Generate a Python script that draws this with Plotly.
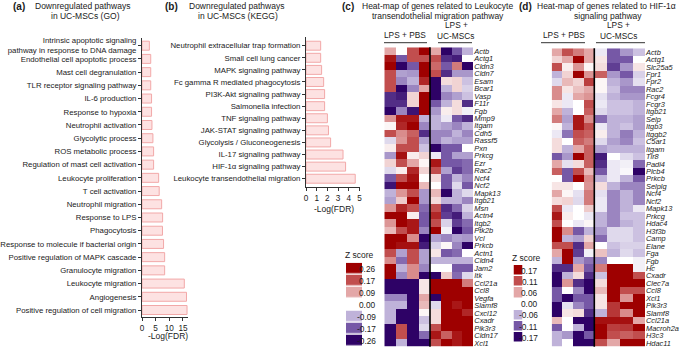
import plotly.graph_objects as go

W, H = 685, 349
FONT = "Liberation Sans, Arial, Helvetica, sans-serif"
INK = "#1a1a1a"

# ---------------- data ----------------
go_terms = [
    "Intrinsic apoptotic signaling<br>pathway in response to DNA damage",
    "Endothelial cell apoptotic process",
    "Mast cell degranulation",
    "TLR receptor signaling pathway",
    "IL-6 production",
    "Response to hypoxia",
    "Neutrophil activation",
    "Glycolytic process",
    "ROS metabolic process",
    "Regulation of mast cell activation",
    "Leukocyte proliferation",
    "T cell activation",
    "Neutrophil migration",
    "Response to LPS",
    "Phagocytosis",
    "Response to molecule if bacterial origin",
    "Positive regulation of MAPK cascade",
    "Granulocyte migration",
    "Leukocyte migration",
    "Angiogenesis",
    "Positive regulation of cell migration",
]
go_values = [2.7, 3.2, 3.2, 3.2, 3.5, 3.5, 3.65, 4.0, 4.25, 4.25, 6.1, 6.3,
             7.2, 7.55, 7.5, 7.9, 8.3, 8.3, 15.5, 16.3, 16.5]

kegg_terms = [
    "Neutrophil extracellular trap formation",
    "Small cell lung cancer",
    "MAPK signaling pathway",
    "Fc gamma R mediated phagocytosis",
    "PI3K-Akt signaling pathway",
    "Salmonella infection",
    "TNF signaling pathway",
    "JAK-STAT signaling pathway",
    "Glycolysis / Gluconeogenesis",
    "IL-17 signaling pathway",
    "HIF-1\u03b1 signaling pathway",
    "Leukocyte transendothelial migration",
]
kegg_values = [1.37, 1.37, 1.46, 1.65, 1.74, 1.74, 2.0, 2.1, 2.3, 3.46, 3.7, 4.6]

c_genes = ["Actb", "Actg1", "Cldn3", "Cldn7", "Esam", "Bcar1", "Vasp", "F11r", "Fgb",
           "Mmp9", "Itgam", "Cdh5", "Rassf5", "Pxn", "Prkcg", "Ezr", "Rac2", "Ncf4",
           "Ncf2", "Mapk13", "Itgb21", "Msn", "Actn4", "Itgb2", "Ptk2b", "Vcl",
           "Prkcb", "Actn1", "Cldn4", "Jam2", "Itk", "Ccl21a", "Ccl8", "Vegfa",
           "Slamf8", "Cxcl12", "Cxadr", "Pik3r3", "Cldn17", "Xcl1"]
# colour level read per cell: 3 = darkest red ... -3 = darkest purple
c_pbs = [
    [1, 0, 2, 3], [2.7, -2, 2, 2], [3, -3, -2, 3], [2, -1.2, -1.3, 3],
    [2, -1.5, -1, 2.5], [2, -3, -1.5, 1], [-2.5, -2.7, 0.5, 3], [-2.5, -2.5, 0.5, 3],
    [-3, -1.5, -2.8, 3], [1.2, 2.7, 2.7, -1], [0.1, 2.5, 3, -1.5], [2, 1.3, 1.8, -2.5],
    [-0.5, 1.2, 2, -1.2], [0.2, 2, 2, -0.8], [-1.3, 2.8, 0.2, 0.5], [0.5, 2, 1, 0.1],
    [-0.5, 0.2, 2.5, 0.5], [-2, 2, 2.8, 0], [-2.8, 3, 3, 0.8], [-1, 1.2, 2, -1.3],
    [-1.2, 0.6, 3, -1.3], [1.2, 2.5, 2, -1.8], [3, 3, 0.2, -2], [1.2, 3, 2.7, -2],
    [0.8, 2, 2.7, -1.5], [3, 3, 1.3, -3], [3, 2.8, 2.8, -2.7], [2, -1.2, 2, -1.2],
    [1.3, -1.8, 2, -1.2], [3, -1, 1.3, -1.5], [3, -1.5, 1.3, -3], [-3, -3, -3, 0.3],
    [-3, -3, -3, 0.3], [-1.5, -1.5, -3, 1], [-1, -1, -3, 0.8], [-1, -3, -3, 0.1],
    [-1, -3, -3, -0.8], [-3, 2, -3, -0.5], [-3, 2, -3, -1.8], [-3, -1, -3, -3],
]
c_msc = [
    [1, -3, -2, -1], [2, -2.5, -2.7, 0], [1.7, -2, 1.5, -3], [2, -2.5, -1.3, -1.3],
    [-3, 0.4, 0.5, -0.8], [-3, -1, 0.5, -0.6], [-3, -1.5, -1.2, -0.8], [-2, -1, 0.4, -2.5],
    [-1.3, 0.2, 0.4, -0.2], [-1, -0.3, -2, -2.5], [-1, -1.2, -1.5, -1], [-1.5, -1.5, -1, -1.5],
    [-1.5, -1, -1.2, -1.2], [-3, -2, -2, 0], [-0.3, -2, -1.2, -1.2], [2.7, -2, -2, -1.8],
    [2, -1.2, -2.3, -1.8], [0.4, -2, -1, -1.5], [0, -2, -0.5, -2], [0.8, -3, -1, -0.5],
    [0.4, -1, -1, -1.5], [2, -2.5, -1.8, -0.6], [2.5, -2.3, -2.7, -1], [2, -0.6, -2.3, -1.8],
    [3, -0.2, -3, -2], [-1.2, -1.5, -1.2, -1.3], [-0.6, 0.1, -1.5, -3], [0.3, -2, -1.8, 0],
    [-1, -1, -1, -1], [0, 0, -2, -2], [-3, 0.6, -1.8, -0.5], [3, 3, 3, 1.5],
    [3, 3, 3, 3], [-3, 3, 3, 3], [-0.5, 3, 2.7, 3], [0.4, 3, 3, 2.5],
    [0.4, 3, 3, 3], [2, 3, 3, 3], [2.7, 1.8, 2.7, 3], [2, 3, 2.7, 3],
]
c_scale_labels = ["0.26", "0.17", "0.09", "0.00", "-0.09", "-0.17", "-0.26"]

d_genes = ["Actb", "Actg1", "Slc25a5", "Fpr1", "Fpr2", "Rac2", "Fcgr4", "Fcgr3", "Itgb21",
           "Selp", "Itgb3", "Itggb2", "C5ar1", "Itgam", "Tlr8", "Padi4", "Plcb4", "Prkcb",
           "Selplg", "Ncf4", "Ncf2", "Mapk13", "Prkcg", "Hdac4", "H3f3b", "Camp", "Elane",
           "Fga", "Fgb", "Hc", "Cxadr", "Clec7a", "Ccl8", "Xcl1", "Pik3r3", "Slamf8",
           "Ccl21a", "Macroh2a", "H3c3", "Hdac11"]
d_pbs = [
    [1, 2, 1.5, 1], [0.5, 1, 3, 1], [2, 0.2, 1.2, 0.1], [-1, 0.5, 3, 1.2],
    [-0.5, 0.8, 0.5, 2.2], [1.3, 0.3, 0.7, 1], [1.3, -0.3, 1, 1.2], [0.3, -0.3, 0, 2],
    [1, -1, 0, 1.8], [1.5, -1.2, 2.7, 1.3], [0.1, -1, 2.7, 2], [-0.3, -1.7, 2, 1.8],
    [0.4, 0, 1.8, 1.5], [0.4, -1, 1, 1.8], [-2, -1.3, 3, 1.8], [1, -0.4, 0.4, 1.8],
    [1.8, -2, 2, 0.8], [0, -2, 3, 1.3], [0.3, 0.3, 0, 1.2], [1, 0.1, -0.4, 1.5],
    [0.4, 0.5, -0.5, 1.5], [2, -0.3, 0, 0.6], [2.7, 0.2, 0, -0.3], [2, 0, -0.3, 0.1],
    [3, 1.3, -2, -1], [3, -1, -1.2, 0.5], [2, 2, -2.5, 1], [1, 3, -2.3, -0.2],
    [-1, 3, -1.3, -1.7], [-2.5, -2.5, 1, -2], [-3, -1, 0.4, -2.5], [-3, 1.2, -2.5, -3],
    [-2, 0, -1.5, -3], [-2, -3, -2, -2], [-3, -0.4, -1.5, -2], [-3, 0.3, 0.4, -2.5],
    [0.8, 0, -3, -3], [-2, 0, -1, -3], [-1, -1.3, -3, -2], [-1, 0, -3, -3],
]
d_msc = [
    [-0.3, -2, -1.3, -0.8], [0.3, -2, -2, 0], [0.4, -2.3, -1.3, 0.3], [1.8, -1.3, -2, -0.6],
    [0.1, -1, -1.3, -0.4], [0.1, -0.8, -1.5, -1.5], [-0.4, -1, -1.3, -1.3], [-0.3, -0.8, -0.8, -1],
    [-0.5, -0.8, -0.8, -1], [-1.8, -1, -1, -1.2], [-0.3, -1, -0.8, -1.2], [0.2, -1, -1.6, -1],
    [-0.5, -1.2, -1.5, -0.8], [-1.2, -1, -1, -1], [-2.7, 0, -0.5, -0.8], [-2.5, -0.3, -0.2, -1.8],
    [-2, -0.3, -0.1, -3], [-1, -0.3, -1, -2], [0.4, -1, -1.5, -1.5], [-0.4, -1.5, -1, -1.5],
    [-0.3, -1.5, -1, -1.5], [-0.3, -1.5, -1, -0.3], [-1, -1.5, -0.8, -0.8], [-1, -1.5, -1, -0.8],
    [-1.3, -0.5, -0.5, -0.8], [-1.8, -0.5, -0.5, -0.8], [0, -0.8, -0.6, -0.6], [0.7, -1, -0.5, -0.8],
    [-1.5, 0, 0, -0.2], [1.5, 3, 3, -0.2], [-0.8, 3, 3, 2], [0.4, 3, 3, 3],
    [0.8, 3, 2, 2], [0.3, 3, 1.2, 3], [0.3, 2.3, 3, 3], [-1, 2.3, 1.3, 3],
    [2.8, 2.8, 2.8, 1], [3, 2.2, 2.3, 3], [3, 2, 1.8, 2], [2, 1, 3, 3],
]
d_scale_labels = ["0.17", "0.11", "0.06", "0.00", "-0.06", "-0.11", "-0.17"]
scale_levels = [3, 2, 1, 0, -1, -2, -3]

# ---------------- styling ----------------
colorscale = [
    [0.0, "#2E0266"], [1 / 6, "#7658A6"], [2 / 6, "#BFB2D9"], [0.5, "#FFFFFF"],
    [4 / 6, "#E3A7A7"], [5 / 6, "#C14E4E"], [1.0, "#9E0000"],
]
BAR_FILL = "#FDE2E2"
BAR_LINE = "#F2A8A8"
GENE_FONT = 7.4


def X(px):
    return px / W


def Y(px):
    return 1 - px / H


fig = go.Figure()

# (a) GO bars
fig.add_trace(go.Bar(
    x=go_values, y=list(range(len(go_terms))), orientation="h",
    xaxis="x", yaxis="y", width=0.68,
    marker=dict(color=BAR_FILL, line=dict(color=BAR_LINE, width=1)),
    hoverinfo="x",
))
# (b) KEGG bars
fig.add_trace(go.Bar(
    x=kegg_values, y=list(range(len(kegg_terms))), orientation="h",
    xaxis="x2", yaxis="y2", width=0.74,
    marker=dict(color=BAR_FILL, line=dict(color=BAR_LINE, width=1)),
    hoverinfo="x",
))

hm_common = dict(colorscale=colorscale, zmin=-3, zmax=3, showscale=False,
                 xgap=0, ygap=0, hoverinfo="z")
rows_c = list(range(len(c_genes)))
rows_d = list(range(len(d_genes)))
fig.add_trace(go.Heatmap(z=c_pbs, x=[0, 1, 2, 3], y=rows_c, xaxis="x3", yaxis="y3", **hm_common))
fig.add_trace(go.Heatmap(z=c_msc, x=[0, 1, 2, 3], y=rows_c, xaxis="x4", yaxis="y3", **hm_common))
fig.add_trace(go.Heatmap(z=d_pbs, x=[0, 1, 2, 3], y=rows_d, xaxis="x5", yaxis="y4", **hm_common))
fig.add_trace(go.Heatmap(z=d_msc, x=[0, 1, 2, 3], y=rows_d, xaxis="x6", yaxis="y4", **hm_common))

# colour keys
key = [[v] for v in scale_levels]
fig.add_trace(go.Heatmap(z=key, x=[0], y=list(range(7)), xaxis="x7", yaxis="y5",
                         colorscale=colorscale, zmin=-3, zmax=3, showscale=False,
                         ygap=1.5, hoverinfo="skip"))
fig.add_trace(go.Heatmap(z=key, x=[0], y=list(range(7)), xaxis="x8", yaxis="y6",
                         colorscale=colorscale, zmin=-3, zmax=3, showscale=False,
                         ygap=1.5, hoverinfo="skip"))

axis_line = dict(showline=True, linecolor="#333", linewidth=1, ticks="outside",
                 ticklen=3, tickwidth=1, tickcolor="#333", showgrid=False,
                 zeroline=False, fixedrange=True)
hidden = dict(visible=False, fixedrange=True, showgrid=False, zeroline=False)

nG, nK = len(go_terms), len(kegg_terms)
layout = dict(
    width=W, height=H, margin=dict(l=0, r=0, t=0, b=0, autoexpand=False),
    paper_bgcolor="white", plot_bgcolor="rgba(0,0,0,0)",
    font=dict(family=FONT, color=INK, size=8), showlegend=False,
    xaxis=dict(domain=[X(142), X(188.4)], range=[0, 17], tickvals=[0, 5, 10, 15],
               anchor="y", tickfont=dict(size=8.2), **axis_line),
    yaxis=dict(domain=[Y(316.7), Y(37.7)], range=[nG - 1 + 0.507, -0.605],
               tickvals=list(range(nG)), ticktext=go_terms, anchor="x",
               tickfont=dict(size=7.8), **axis_line),
    xaxis2=dict(domain=[X(306), X(359.5)], range=[0, 5], dtick=1,
                anchor="y2", tickfont=dict(size=8.2), **axis_line),
    yaxis2=dict(domain=[Y(186.7), Y(37)], range=[nK - 1 + 0.66, -0.72],
                tickvals=list(range(nK)), ticktext=kegg_terms, anchor="x2",
                tickfont=dict(size=7.8), **axis_line),
    xaxis3=dict(domain=[X(384.3), X(430)], range=[-0.5, 3.5], anchor="y3", **hidden),
    xaxis4=dict(domain=[X(430), X(473.3)], range=[-0.5, 3.5], anchor="y3", **hidden),
    yaxis3=dict(domain=[Y(346.7), Y(47.3)], range=[len(c_genes) - 0.5, -0.5],
                anchor="x4", side="right", tickvals=rows_c,
                ticktext=["<i>%s</i>" % g for g in c_genes], ticks="",
                showline=False, showgrid=False, zeroline=False, fixedrange=True,
                tickfont=dict(size=GENE_FONT, color=INK)),
    xaxis5=dict(domain=[X(551.7), X(594.3)], range=[-0.5, 3.5], anchor="y4", **hidden),
    xaxis6=dict(domain=[X(594.3), X(645)], range=[-0.5, 3.5], anchor="y4", **hidden),
    yaxis4=dict(domain=[Y(346.7), Y(48.3)], range=[len(d_genes) - 0.5, -0.5],
                anchor="x6", side="right", tickvals=rows_d,
                ticktext=["<i>%s</i>" % g for g in d_genes], ticks="",
                showline=False, showgrid=False, zeroline=False, fixedrange=True,
                tickfont=dict(size=GENE_FONT, color=INK)),
    xaxis7=dict(domain=[X(346), X(362)], range=[-0.5, 0.5], anchor="y5", **hidden),
    yaxis5=dict(domain=[Y(346.7), Y(262.7)], range=[6.5, -0.5], anchor="x7", **hidden),
    xaxis8=dict(domain=[X(513.5), X(522.5)], range=[-0.5, 0.5], anchor="y6", **hidden),
    yaxis6=dict(domain=[Y(343.3), Y(265)], range=[6.5, -0.5], anchor="x8", **hidden),
)
fig.update_layout(**layout)

ann = []


def text(px, py, s, size=8.5, bold=False, xanchor="center"):
    ann.append(dict(x=X(px), y=Y(py), xref="paper", yref="paper", text=("<b>%s</b>" % s) if bold else s,
                    showarrow=False, xanchor=xanchor, yanchor="middle",
                    font=dict(size=size, family=FONT, color=INK)))


# panel titles
text(18.5, 6.5, "(a)", 10, True)
text(82.5, 5.7, "Downregulated pathways")
text(85, 15.7, "in UC-MSCs (GO)")
text(171, 6.5, "(b)", 10, True)
text(236.5, 5.7, "Downregulated pathways")
text(237.5, 15.7, "in UC-MSCs (KEGG)")
text(347.5, 6.5, "(c)", 10, True)
text(437, 5.7, "Heat-map of genes related to Leukocyte")
text(438, 15.7, "transendothelial migration pathway")
text(525, 6.5, "(d)", 10, True)
text(606, 5.7, "Heat-map of genes related to HIF-1\u03b1")
text(608, 15.7, "signaling pathway")

# axis titles
text(168, 335.7, "-Log(FDR)")
text(334, 208.7, "-Log(FDR)")

# group headers
text(405, 35, "LPS + PBS", 8.3)
text(456, 25, "LPS +", 8.3)
text(455, 35.5, "UC-MSCs", 8.3)
text(564, 35, "LPS + PBS", 8.3)
text(618, 25, "LPS +", 8.3)
text(618, 35.5, "UC-MSCs", 8.3)

# colour keys
text(359, 255, "Z score", 8.5)
text(526, 257.7, "Z score", 8.5)
for i, lab in enumerate(c_scale_labels):
    ann.append(dict(x=X(378), y=i, xref="paper", yref="y5", text=lab, showarrow=False,
                    xanchor="right", yanchor="middle",
                    font=dict(size=8.3, family=FONT, color=INK)))
for i, lab in enumerate(d_scale_labels):
    ann.append(dict(x=X(540), y=i, xref="paper", yref="y6", text=lab, showarrow=False,
                    xanchor="right", yanchor="middle",
                    font=dict(size=8.3, family=FONT, color=INK)))
fig.update_layout(annotations=ann)

shapes = [
    dict(type="line", xref="x4 domain", yref="y3 domain", x0=0, x1=0, y0=0, y1=1,
         line=dict(color="black", width=1.6)),
    dict(type="line", xref="x6 domain", yref="y4 domain", x0=0, x1=0, y0=0, y1=1,
         line=dict(color="black", width=1.6)),
]
for x0, x1 in [(384, 427), (438, 472), (541, 585), (596, 645)]:
    shapes.append(dict(type="line", xref="paper", yref="paper", x0=X(x0), x1=X(x1),
                       y0=Y(42.7), y1=Y(42.7), line=dict(color="#333", width=1)))
fig.update_layout(shapes=shapes)

fig.write_html("out.html", config={"displayModeBar": False},
               post_script="document.body.style.margin='0px';document.body.style.overflow='hidden';")
